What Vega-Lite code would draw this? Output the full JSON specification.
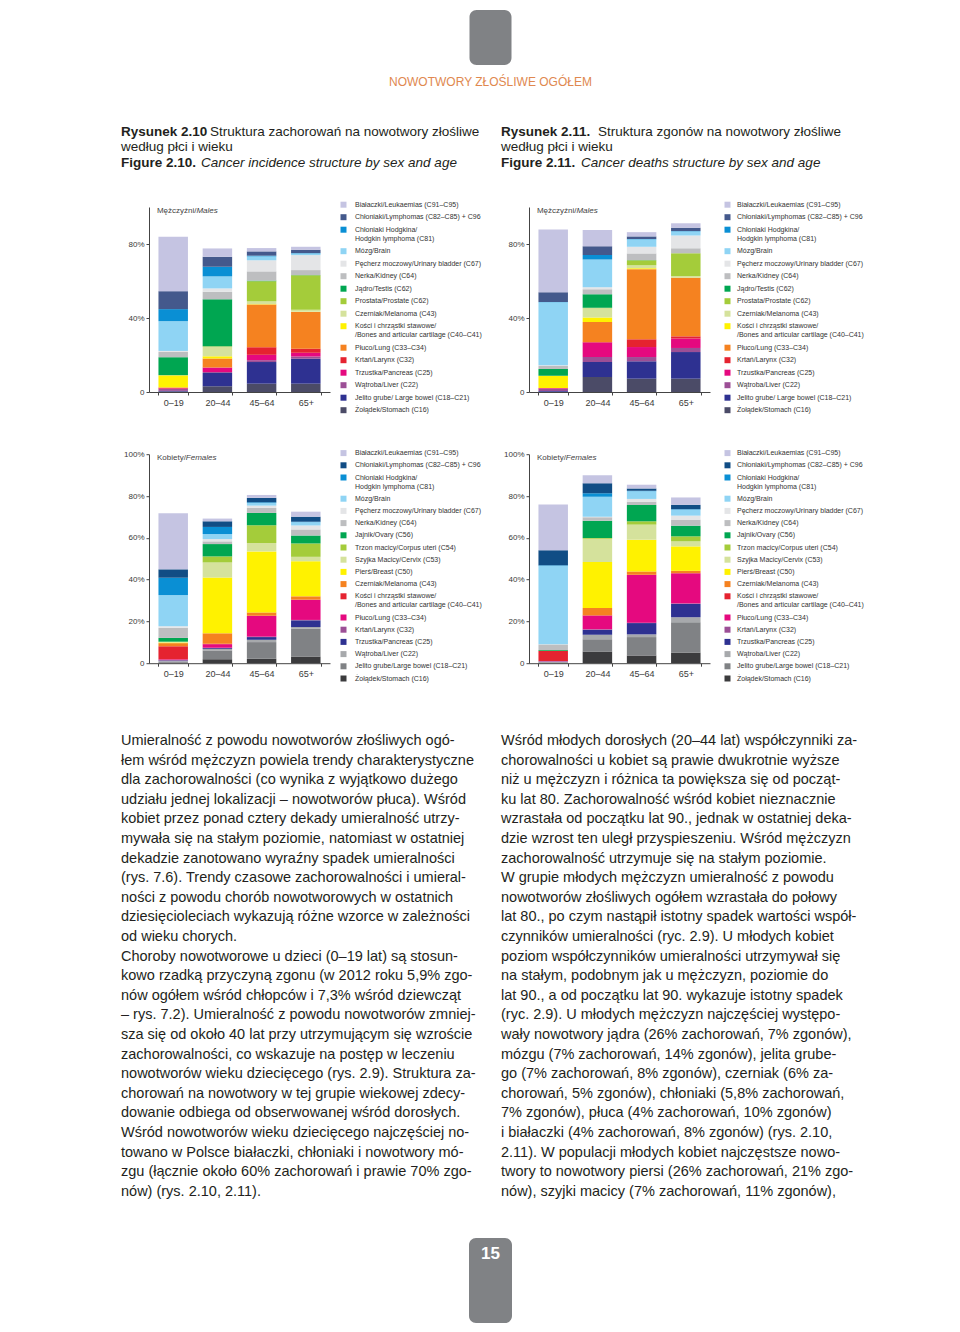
{
"$schema":"https://vega.github.io/schema/vega-lite/v6.json",
"background":"white",
"padding":{"left":121,"top":10,"right":0,"bottom":0},
"autosize":{"type":"pad"},
"config":{"view":{"stroke":null},
 "axis":{"labelFont":"Liberation Sans","labelFontSize":9,"labelColor":"#3a3a3a","domainColor":"#444","tickColor":"#444","labelOverlap":false},
 "text":{"font":"Liberation Sans","color":"#231f20"}},
"datasets":{
"ml":[{"k":16,"c":"Białaczki/Leukaemias (C91–C95)"},{"k":15,"c":"Chłoniaki/Lymphomas (C82–C85) + C96"},{"k":14,"c":"Chłoniaki Hodgkina/|Hodgkin lymphoma (C81)"},{"k":13,"c":"Mózg/Brain"},{"k":12,"c":"Pęcherz moczowy/Urinary bladder (C67)"},{"k":11,"c":"Nerka/Kidney (C64)"},{"k":10,"c":"Jądro/Testis (C62)"},{"k":9,"c":"Prostata/Prostate (C62)"},{"k":8,"c":"Czerniak/Melanoma (C43)"},{"k":7,"c":"Kości i chrząstki stawowe/|/Bones and articular cartilage (C40–C41)"},{"k":6,"c":"Płuco/Lung (C33–C34)"},{"k":5,"c":"Krtań/Larynx (C32)"},{"k":4,"c":"Trzustka/Pancreas (C25)"},{"k":3,"c":"Wątroba/Liver (C22)"},{"k":2,"c":"Jelito grube/ Large bowel (C18–C21)"},{"k":1,"c":"Żołądek/Stomach (C16)"}],
"fl":[{"k":18,"c":"Białaczki/Leukaemias (C91–C95)"},{"k":17,"c":"Chłoniaki/Lymphomas (C82–C85) + C96"},{"k":16,"c":"Chłoniaki Hodgkina/|Hodgkin lymphoma (C81)"},{"k":15,"c":"Mózg/Brain"},{"k":14,"c":"Pęcherz moczowy/Urinary bladder (C67)"},{"k":13,"c":"Nerka/Kidney (C64)"},{"k":12,"c":"Jajnik/Ovary (C56)"},{"k":11,"c":"Trzon macicy/Corpus uteri (C54)"},{"k":10,"c":"Szyjka Macicy/Cervix (C53)"},{"k":9,"c":"Pierś/Breast (C50)"},{"k":8,"c":"Czerniak/Melanoma (C43)"},{"k":7,"c":"Kości i chrząstki stawowe/|/Bones and articular cartilage (C40–C41)"},{"k":6,"c":"Płuco/Lung (C33–C34)"},{"k":5,"c":"Krtań/Larynx (C32)"},{"k":4,"c":"Trzustka/Pancreas (C25)"},{"k":3,"c":"Wątroba/Liver (C22)"},{"k":2,"c":"Jelito grube/Large bowel (C18–C21)"},{"k":1,"c":"Żołądek/Stomach (C16)"}],
"mi":[
{"a":"0–19","k":1,"v":0.3},{"a":"0–19","k":2,"v":0.3},{"a":"0–19","k":3,"v":1.0},{"a":"0–19","k":4,"v":0.3},{"a":"0–19","k":5,"v":0.4},{"a":"0–19","k":6,"v":0.2},{"a":"0–19","k":7,"v":6.5},{"a":"0–19","k":8,"v":0.1},{"a":"0–19","k":10,"v":9.7},{"a":"0–19","k":11,"v":2.9},{"a":"0–19","k":12,"v":0.5},{"a":"0–19","k":13,"v":16.1},{"a":"0–19","k":14,"v":6.5},{"a":"0–19","k":15,"v":9.7},{"a":"0–19","k":16,"v":29.4},
{"a":"20–44","k":1,"v":3.1},{"a":"20–44","k":2,"v":7.2},{"a":"20–44","k":3,"v":0.5},{"a":"20–44","k":4,"v":2.3},{"a":"20–44","k":5,"v":0.2},{"a":"20–44","k":6,"v":4.8},{"a":"20–44","k":7,"v":1.2},{"a":"20–44","k":8,"v":5.1},{"a":"20–44","k":9,"v":0.3},{"a":"20–44","k":10,"v":25.4},{"a":"20–44","k":11,"v":4.1},{"a":"20–44","k":12,"v":1.8},{"a":"20–44","k":13,"v":6.5},{"a":"20–44","k":14,"v":5.2},{"a":"20–44","k":15,"v":5.4},{"a":"20–44","k":16,"v":4.5},
{"a":"45–64","k":1,"v":4.5},{"a":"45–64","k":2,"v":11.7},{"a":"45–64","k":3,"v":1.0},{"a":"45–64","k":4,"v":2.9},{"a":"45–64","k":5,"v":4.1},{"a":"45–64","k":6,"v":23.1},{"a":"45–64","k":7,"v":0.2},{"a":"45–64","k":8,"v":1.5},{"a":"45–64","k":9,"v":10.9},{"a":"45–64","k":10,"v":0.3},{"a":"45–64","k":11,"v":5.0},{"a":"45–64","k":12,"v":6.0},{"a":"45–64","k":13,"v":2.1},{"a":"45–64","k":14,"v":0.4},{"a":"45–64","k":15,"v":2.3},{"a":"45–64","k":16,"v":1.8},
{"a":"65+","k":1,"v":4.5},{"a":"65+","k":2,"v":13.5},{"a":"65+","k":3,"v":1.2},{"a":"65+","k":4,"v":2.0},{"a":"65+","k":5,"v":2.2},{"a":"65+","k":6,"v":19.9},{"a":"65+","k":7,"v":0.1},{"a":"65+","k":8,"v":1.1},{"a":"65+","k":9,"v":18.6},{"a":"65+","k":10,"v":0.1},{"a":"65+","k":11,"v":2.7},{"a":"65+","k":12,"v":8.1},{"a":"65+","k":13,"v":0.9},{"a":"65+","k":14,"v":0.2},{"a":"65+","k":15,"v":1.8},{"a":"65+","k":16,"v":1.6}],
"md":[
{"a":"0–19","k":1,"v":0.2},{"a":"0–19","k":2,"v":0.3},{"a":"0–19","k":3,"v":1.3},{"a":"0–19","k":4,"v":0.2},{"a":"0–19","k":5,"v":0.1},{"a":"0–19","k":6,"v":0.1},{"a":"0–19","k":7,"v":6.5},{"a":"0–19","k":8,"v":0.1},{"a":"0–19","k":10,"v":3.6},{"a":"0–19","k":11,"v":1.8},{"a":"0–19","k":12,"v":0.2},{"a":"0–19","k":13,"v":34.1},{"a":"0–19","k":14,"v":0.2},{"a":"0–19","k":15,"v":5.2},{"a":"0–19","k":16,"v":34.0},
{"a":"20–44","k":1,"v":8.1},{"a":"20–44","k":2,"v":8.1},{"a":"20–44","k":3,"v":2.7},{"a":"20–44","k":4,"v":7.8},{"a":"20–44","k":5,"v":0.3},{"a":"20–44","k":6,"v":10.8},{"a":"20–44","k":7,"v":2.5},{"a":"20–44","k":8,"v":5.0},{"a":"20–44","k":9,"v":0.2},{"a":"20–44","k":10,"v":7.4},{"a":"20–44","k":11,"v":2.7},{"a":"20–44","k":12,"v":1.0},{"a":"20–44","k":13,"v":15.0},{"a":"20–44","k":14,"v":2.5},{"a":"20–44","k":15,"v":4.7},{"a":"20–44","k":16,"v":8.8},
{"a":"45–64","k":1,"v":7.2},{"a":"45–64","k":2,"v":9.4},{"a":"45–64","k":3,"v":2.3},{"a":"45–64","k":4,"v":5.4},{"a":"45–64","k":5,"v":4.2},{"a":"45–64","k":6,"v":37.9},{"a":"45–64","k":7,"v":0.5},{"a":"45–64","k":8,"v":1.6},{"a":"45–64","k":9,"v":2.7},{"a":"45–64","k":10,"v":0.1},{"a":"45–64","k":11,"v":3.6},{"a":"45–64","k":12,"v":3.6},{"a":"45–64","k":13,"v":4.0},{"a":"45–64","k":14,"v":0.2},{"a":"45–64","k":15,"v":1.4},{"a":"45–64","k":16,"v":2.3},
{"a":"65+","k":1,"v":7.2},{"a":"65+","k":2,"v":14.4},{"a":"65+","k":3,"v":2.2},{"a":"65+","k":4,"v":5.1},{"a":"65+","k":5,"v":1.2},{"a":"65+","k":6,"v":31.6},{"a":"65+","k":7,"v":0.1},{"a":"65+","k":8,"v":0.9},{"a":"65+","k":9,"v":12.3},{"a":"65+","k":11,"v":2.7},{"a":"65+","k":12,"v":6.9},{"a":"65+","k":13,"v":2.2},{"a":"65+","k":14,"v":0.2},{"a":"65+","k":15,"v":1.8},{"a":"65+","k":16,"v":2.4}],
"fi":[
{"a":"0–19","k":1,"v":0.2},{"a":"0–19","k":2,"v":0.5},{"a":"0–19","k":3,"v":0.3},{"a":"0–19","k":4,"v":0.3},{"a":"0–19","k":5,"v":0.3},{"a":"0–19","k":6,"v":0.3},{"a":"0–19","k":7,"v":6.2},{"a":"0–19","k":8,"v":1.5},{"a":"0–19","k":9,"v":0.3},{"a":"0–19","k":10,"v":0.3},{"a":"0–19","k":11,"v":0.1},{"a":"0–19","k":12,"v":1.8},{"a":"0–19","k":13,"v":4.8},{"a":"0–19","k":14,"v":0.8},{"a":"0–19","k":15,"v":14.9},{"a":"0–19","k":16,"v":8.3},{"a":"0–19","k":17,"v":4.0},{"a":"0–19","k":18,"v":26.8},
{"a":"20–44","k":1,"v":1.9},{"a":"20–44","k":2,"v":4.2},{"a":"20–44","k":3,"v":0.7},{"a":"20–44","k":4,"v":0.4},{"a":"20–44","k":5,"v":0.2},{"a":"20–44","k":6,"v":1.7},{"a":"20–44","k":7,"v":0.2},{"a":"20–44","k":8,"v":5.0},{"a":"20–44","k":9,"v":26.7},{"a":"20–44","k":10,"v":7.2},{"a":"20–44","k":11,"v":2.9},{"a":"20–44","k":12,"v":5.9},{"a":"20–44","k":13,"v":1.3},{"a":"20–44","k":14,"v":1.1},{"a":"20–44","k":15,"v":2.4},{"a":"20–44","k":16,"v":3.4},{"a":"20–44","k":17,"v":2.7},{"a":"20–44","k":18,"v":1.3},
{"a":"45–64","k":1,"v":2.1},{"a":"45–64","k":2,"v":8.0},{"a":"45–64","k":3,"v":1.1},{"a":"45–64","k":4,"v":1.3},{"a":"45–64","k":5,"v":0.2},{"a":"45–64","k":6,"v":9.9},{"a":"45–64","k":7,"v":0.1},{"a":"45–64","k":8,"v":1.6},{"a":"45–64","k":9,"v":29.2},{"a":"45–64","k":10,"v":4.0},{"a":"45–64","k":11,"v":8.5},{"a":"45–64","k":12,"v":5.9},{"a":"45–64","k":13,"v":2.4},{"a":"45–64","k":14,"v":1.1},{"a":"45–64","k":15,"v":1.3},{"a":"45–64","k":16,"v":0.3},{"a":"45–64","k":17,"v":2.1},{"a":"45–64","k":18,"v":1.4},
{"a":"65+","k":1,"v":3.2},{"a":"65+","k":2,"v":13.3},{"a":"65+","k":3,"v":0.8},{"a":"65+","k":4,"v":3.2},{"a":"65+","k":5,"v":0.2},{"a":"65+","k":6,"v":9.6},{"a":"65+","k":7,"v":0.1},{"a":"65+","k":8,"v":1.6},{"a":"65+","k":9,"v":16.8},{"a":"65+","k":10,"v":2.1},{"a":"65+","k":11,"v":6.4},{"a":"65+","k":12,"v":3.8},{"a":"65+","k":13,"v":2.9},{"a":"65+","k":14,"v":1.9},{"a":"65+","k":15,"v":1.6},{"a":"65+","k":16,"v":0.2},{"a":"65+","k":17,"v":2.4},{"a":"65+","k":18,"v":2.4}],
"fd":[
{"a":"0–19","k":1,"v":0.2},{"a":"0–19","k":2,"v":0.3},{"a":"0–19","k":3,"v":0.2},{"a":"0–19","k":4,"v":0.1},{"a":"0–19","k":5,"v":0.1},{"a":"0–19","k":6,"v":0.1},{"a":"0–19","k":7,"v":4.8},{"a":"0–19","k":8,"v":0.1},{"a":"0–19","k":9,"v":0.1},{"a":"0–19","k":12,"v":0.3},{"a":"0–19","k":13,"v":2.6},{"a":"0–19","k":14,"v":0.2},{"a":"0–19","k":15,"v":37.5},{"a":"0–19","k":16,"v":0.3},{"a":"0–19","k":17,"v":7.2},{"a":"0–19","k":18,"v":21.8},
{"a":"20–44","k":1,"v":5.6},{"a":"20–44","k":2,"v":5.9},{"a":"20–44","k":3,"v":2.1},{"a":"20–44","k":4,"v":2.4},{"a":"20–44","k":5,"v":0.2},{"a":"20–44","k":6,"v":6.5},{"a":"20–44","k":7,"v":0.2},{"a":"20–44","k":8,"v":3.5},{"a":"20–44","k":9,"v":22.0},{"a":"20–44","k":10,"v":11.2},{"a":"20–44","k":11,"v":0.3},{"a":"20–44","k":12,"v":8.3},{"a":"20–44","k":13,"v":1.6},{"a":"20–44","k":14,"v":0.3},{"a":"20–44","k":15,"v":9.6},{"a":"20–44","k":16,"v":1.6},{"a":"20–44","k":17,"v":4.8},{"a":"20–44","k":18,"v":3.8},
{"a":"45–64","k":1,"v":3.7},{"a":"45–64","k":2,"v":8.8},{"a":"45–64","k":3,"v":1.3},{"a":"45–64","k":4,"v":5.4},{"a":"45–64","k":5,"v":0.2},{"a":"45–64","k":6,"v":22.8},{"a":"45–64","k":7,"v":0.1},{"a":"45–64","k":8,"v":1.6},{"a":"45–64","k":9,"v":15.2},{"a":"45–64","k":10,"v":7.2},{"a":"45–64","k":11,"v":1.6},{"a":"45–64","k":12,"v":7.8},{"a":"45–64","k":13,"v":1.6},{"a":"45–64","k":14,"v":1.3},{"a":"45–64","k":15,"v":3.7},{"a":"45–64","k":16,"v":0.2},{"a":"45–64","k":17,"v":1.1},{"a":"45–64","k":18,"v":1.8},
{"a":"65+","k":1,"v":5.1},{"a":"65+","k":2,"v":14.5},{"a":"65+","k":3,"v":2.4},{"a":"65+","k":4,"v":6.4},{"a":"65+","k":5,"v":0.2},{"a":"65+","k":6,"v":14.4},{"a":"65+","k":7,"v":0.1},{"a":"65+","k":8,"v":1.1},{"a":"65+","k":9,"v":11.7},{"a":"65+","k":10,"v":2.4},{"a":"65+","k":11,"v":2.4},{"a":"65+","k":12,"v":5.1},{"a":"65+","k":13,"v":2.9},{"a":"65+","k":14,"v":1.9},{"a":"65+","k":15,"v":2.9},{"a":"65+","k":16,"v":0.2},{"a":"65+","k":17,"v":2.1},{"a":"65+","k":18,"v":3.5}],
"txtL":[
{"l":1,"t":"Umieralność z powodu nowotworów złośliwych ogó-"},
{"l":2,"t":"łem wśród mężczyzn powiela trendy charakterystyczne"},
{"l":3,"t":"dla zachorowalności (co wynika z wyjątkowo dużego"},
{"l":4,"t":"udziału jednej lokalizacji – nowotworów płuca). Wśród"},
{"l":5,"t":"kobiet przez ponad cztery dekady umieralność utrzy-"},
{"l":6,"t":"mywała się na stałym poziomie, natomiast w ostatniej"},
{"l":7,"t":"dekadzie zanotowano wyraźny spadek umieralności"},
{"l":8,"t":"(rys. 7.6). Trendy czasowe zachorowalności i umieral-"},
{"l":9,"t":"ności z powodu chorób nowotworowych w ostatnich"},
{"l":10,"t":"dziesięcioleciach wykazują różne wzorce w zależności"},
{"l":11,"t":"od wieku chorych."},
{"l":12,"t":"Choroby nowotworowe u dzieci (0–19 lat) są stosun-"},
{"l":13,"t":"kowo rzadką przyczyną zgonu (w 2012 roku 5,9% zgo-"},
{"l":14,"t":"nów ogółem wśród chłopców i 7,3% wśród dziewcząt"},
{"l":15,"t":"– rys. 7.2). Umieralność z powodu nowotworów zmniej-"},
{"l":16,"t":"sza się od około 40 lat przy utrzymującym się wzroście"},
{"l":17,"t":"zachorowalności, co wskazuje na postęp w leczeniu"},
{"l":18,"t":"nowotworów wieku dziecięcego (rys. 2.9). Struktura za-"},
{"l":19,"t":"chorowań na nowotwory w tej grupie wiekowej zdecy-"},
{"l":20,"t":"dowanie odbiega od obserwowanej wśród dorosłych."},
{"l":21,"t":"Wśród nowotworów wieku dziecięcego najczęściej no-"},
{"l":22,"t":"towano w Polsce białaczki, chłoniaki i nowotwory mó-"},
{"l":23,"t":"zgu (łącznie około 60% zachorowań i prawie 70% zgo-"},
{"l":24,"t":"nów) (rys. 2.10, 2.11)."}],
"txtR":[
{"l":1,"t":"Wśród młodych dorosłych (20–44 lat) współczynniki za-"},
{"l":2,"t":"chorowalności u kobiet są prawie dwukrotnie wyższe"},
{"l":3,"t":"niż u mężczyzn i różnica ta powiększa się od począt-"},
{"l":4,"t":"ku lat 80. Zachorowalność wśród kobiet nieznacznie"},
{"l":5,"t":"wzrastała od początku lat 90., jednak w ostatniej deka-"},
{"l":6,"t":"dzie wzrost ten uległ przyspieszeniu. Wśród mężczyzn"},
{"l":7,"t":"zachorowalność utrzymuje się na stałym poziomie."},
{"l":8,"t":"W grupie młodych mężczyzn umieralność z powodu"},
{"l":9,"t":"nowotworów złośliwych ogółem wzrastała do połowy"},
{"l":10,"t":"lat 80., po czym nastąpił istotny spadek wartości współ-"},
{"l":11,"t":"czynników umieralności (ryc. 2.9). U młodych kobiet"},
{"l":12,"t":"poziom współczynników umieralności utrzymywał się"},
{"l":13,"t":"na stałym, podobnym jak u mężczyzn, poziomie do"},
{"l":14,"t":"lat 90., a od początku lat 90. wykazuje istotny spadek"},
{"l":15,"t":"(ryc. 2.9). U młodych mężczyzn najczęściej występo-"},
{"l":16,"t":"wały nowotwory jądra (26% zachorowań, 7% zgonów),"},
{"l":17,"t":"mózgu (7% zachorowań, 14% zgonów), jelita grube-"},
{"l":18,"t":"go (7% zachorowań, 8% zgonów), czerniak (6% za-"},
{"l":19,"t":"chorowań, 5% zgonów), chłoniaki (5,8% zachorowań,"},
{"l":20,"t":"7% zgonów), płuca (4% zachorowań, 10% zgonów)"},
{"l":21,"t":"i białaczki (4% zachorowań, 8% zgonów) (rys. 2.10,"},
{"l":22,"t":"2.11). W populacji młodych kobiet najczęstsze nowo-"},
{"l":23,"t":"twory to nowotwory piersi (26% zachorowań, 21% zgo-"},
{"l":24,"t":"nów), szyjki macicy (7% zachorowań, 11% zgonów),"}]
},
"spacing":0,
"resolve":{"scale":{"color":"independent"},"legend":{"color":"independent"}},
"vconcat":[
{"width":739,"height":55,
 "data":{"values":[{"n":"tab"}]},
 "title":{"text":"NOWOTWORY ZŁOŚLIWE OGÓŁEM","orient":"bottom","anchor":"middle","frame":"group","offset":12,"font":"Liberation Sans","fontSize":12,"fontWeight":"normal","color":"#e0884f"},
 "mark":{"type":"bar","width":42,"cornerRadius":7,"color":"#808285"},
 "encoding":{"x":{"field":"n","type":"nominal","axis":null},
  "y":{"datum":1,"type":"quantitative","scale":{"domain":[0,1],"nice":false,"zero":false},"axis":null},
  "y2":{"datum":0}}},
{"hconcat":[
 {"width":359,"height":112.5,
  "layer":[
   {"data":{"values":[{"l":1,"t":"Rysunek 2.10"},{"l":3,"t":"Figure 2.10."}]},
    "mark":{"type":"text","align":"left","baseline":"middle","fontSize":13.5,"fontWeight":"bold"},
    "encoding":{"x":{"datum":0,"type":"quantitative","scale":{"domain":[0,1],"nice":false},"axis":null},"y":{"field":"l","type":"quantitative","scale":{"domain":[1,3],"range":[43.5,74.5],"nice":false,"zero":false},"axis":null},"text":{"field":"t"}}},
   {"data":{"values":[{"l":1,"t":"Struktura zachorowań na nowotwory złośliwe"}]},
    "mark":{"type":"text","align":"left","baseline":"middle","fontSize":13.5,"dx":89},
    "encoding":{"x":{"datum":0,"type":"quantitative","axis":null},"y":{"field":"l","type":"quantitative","axis":null},"text":{"field":"t"}}},
   {"data":{"values":[{"l":2,"t":"według płci i wieku"}]},
    "mark":{"type":"text","align":"left","baseline":"middle","fontSize":13.5},
    "encoding":{"x":{"datum":0,"type":"quantitative","axis":null},"y":{"field":"l","type":"quantitative","axis":null},"text":{"field":"t"}}},
   {"data":{"values":[{"l":3,"t":"Cancer incidence structure by sex and age"}]},
    "mark":{"type":"text","align":"left","baseline":"middle","fontSize":13.5,"fontStyle":"italic","dx":80},
    "encoding":{"x":{"datum":0,"type":"quantitative","axis":null},"y":{"field":"l","type":"quantitative","axis":null},"text":{"field":"t"}}}
  ]},
 {"width":359,"height":112.5,
  "layer":[
   {"data":{"values":[{"l":1,"t":"Rysunek 2.11."},{"l":3,"t":"Figure 2.11."}]},
    "mark":{"type":"text","align":"left","baseline":"middle","fontSize":13.5,"fontWeight":"bold"},
    "encoding":{"x":{"datum":0,"type":"quantitative","scale":{"domain":[0,1],"nice":false},"axis":null},"y":{"field":"l","type":"quantitative","scale":{"domain":[1,3],"range":[43.5,74.5],"nice":false,"zero":false},"axis":null},"text":{"field":"t"}}},
   {"data":{"values":[{"l":1,"t":"Struktura zgonów na nowotwory złośliwe"}]},
    "mark":{"type":"text","align":"left","baseline":"middle","fontSize":13.5,"dx":97},
    "encoding":{"x":{"datum":0,"type":"quantitative","axis":null},"y":{"field":"l","type":"quantitative","axis":null},"text":{"field":"t"}}},
   {"data":{"values":[{"l":2,"t":"według płci i wieku"}]},
    "mark":{"type":"text","align":"left","baseline":"middle","fontSize":13.5},
    "encoding":{"x":{"datum":0,"type":"quantitative","axis":null},"y":{"field":"l","type":"quantitative","axis":null},"text":{"field":"t"}}},
   {"data":{"values":[{"l":3,"t":"Cancer deaths structure by sex and age"}]},
    "mark":{"type":"text","align":"left","baseline":"middle","fontSize":13.5,"fontStyle":"italic","dx":80},
    "encoding":{"x":{"datum":0,"type":"quantitative","axis":null},"y":{"field":"l","type":"quantitative","axis":null},"text":{"field":"t"}}}
  ]}
 ],"spacing":21,"bounds":"flush"},
{"vconcat":[
 {"hconcat":[
  {"width":14,"height":10,"data":{"values":[{}]},"mark":{"type":"point","opacity":0}},
  {"hconcat":[
   {"width":181,"height":185,"data":{"name":"mi"},
    "layer":[
     {"transform":[{"lookup":"k","from":{"data":{"name":"ml"},"key":"k","fields":["c"]}}],
      "mark":{"type":"bar"},
      "encoding":{
       "x":{"field":"a","type":"ordinal","scale":{"domain":["0–19","20–44","45–64","65+"],"paddingInner":0.333,"paddingOuter":0.214},"axis":{"title":null,"labelAngle":0,"tickBand":"extent","tickSize":3,"labelPadding":3}},
       "y":{"field":"v","type":"quantitative","stack":"zero","scale":{"domain":[0,100]},"axis":{"title":null,"values":[0,20,40,60,80,100],"labelExpr":"datum.value == 0 ? '0' : datum.value + '%'","grid":false,"tickSize":3,"labelPadding":2,"labelFontSize":8,"labelOverlap":false}},
       "color":{"field":"c","type":"nominal","scale":{"domain":["Białaczki/Leukaemias (C91–C95)","Chłoniaki/Lymphomas (C82–C85) + C96","Chłoniaki Hodgkina/|Hodgkin lymphoma (C81)","Mózg/Brain","Pęcherz moczowy/Urinary bladder (C67)","Nerka/Kidney (C64)","Jądro/Testis (C62)","Prostata/Prostate (C62)","Czerniak/Melanoma (C43)","Kości i chrząstki stawowe/|/Bones and articular cartilage (C40–C41)","Płuco/Lung (C33–C34)","Krtań/Larynx (C32)","Trzustka/Pancreas (C25)","Wątroba/Liver (C22)","Jelito grube/ Large bowel (C18–C21)","Żołądek/Stomach (C16)"],"range":["#c5c4e2","#44598c","#0a8fd4","#8fd4f4","#e4e5e7","#bdbec0","#00a651","#a4cc3a","#d5e29c","#fff200","#f58220","#e52330","#e5097f","#9c4f96","#2e3191","#4b4b67"]},
        "legend":{"title":null,"orient":"none","legendX":191,"legendY":-5.8,"padding":0,"symbolType":"square","symbolSize":36,"symbolStrokeWidth":0,"labelFont":"Liberation Sans","labelFontSize":7,"labelColor":"#333","labelOffset":8,"rowPadding":4.5,"labelLimit":300,"labelExpr":"split(datum.label, '|')"}},
       "order":{"field":"k","type":"quantitative","sort":"ascending"}}},
     {"data":{"values":[{"t":"Mężczyźni/"}]},"mark":{"type":"text","align":"left","baseline":"middle","fontSize":8,"color":"#444","dx":-1.5},
      "encoding":{"x":{"datum":"0–19","type":"ordinal","bandPosition":0},"y":{"datum":98,"type":"quantitative"},"text":{"field":"t"}}},
     {"data":{"values":[{"t":"Males"}]},"mark":{"type":"text","align":"left","baseline":"middle","fontSize":8,"fontStyle":"italic","color":"#444","dx":38},
      "encoding":{"x":{"datum":"0–19","type":"ordinal","bandPosition":0},"y":{"datum":98,"type":"quantitative"},"text":{"field":"t"}}}
    ]},
   {"width":181,"height":185,"data":{"name":"md"},
    "layer":[
     {"transform":[{"lookup":"k","from":{"data":{"name":"ml"},"key":"k","fields":["c"]}}],
      "mark":{"type":"bar"},
      "encoding":{
       "x":{"field":"a","type":"ordinal","scale":{"domain":["0–19","20–44","45–64","65+"],"paddingInner":0.333,"paddingOuter":0.214},"axis":{"title":null,"labelAngle":0,"tickBand":"extent","tickSize":3,"labelPadding":3}},
       "y":{"field":"v","type":"quantitative","stack":"zero","scale":{"domain":[0,100]},"axis":{"title":null,"values":[0,20,40,60,80,100],"labelExpr":"datum.value == 0 ? '0' : datum.value + '%'","grid":false,"tickSize":3,"labelPadding":2,"labelFontSize":8,"labelOverlap":false}},
       "color":{"field":"c","type":"nominal","scale":{"domain":["Białaczki/Leukaemias (C91–C95)","Chłoniaki/Lymphomas (C82–C85) + C96","Chłoniaki Hodgkina/|Hodgkin lymphoma (C81)","Mózg/Brain","Pęcherz moczowy/Urinary bladder (C67)","Nerka/Kidney (C64)","Jądro/Testis (C62)","Prostata/Prostate (C62)","Czerniak/Melanoma (C43)","Kości i chrząstki stawowe/|/Bones and articular cartilage (C40–C41)","Płuco/Lung (C33–C34)","Krtań/Larynx (C32)","Trzustka/Pancreas (C25)","Wątroba/Liver (C22)","Jelito grube/ Large bowel (C18–C21)","Żołądek/Stomach (C16)"],"range":["#c5c4e2","#44598c","#0a8fd4","#8fd4f4","#e4e5e7","#bdbec0","#00a651","#a4cc3a","#d5e29c","#fff200","#f58220","#e52330","#e5097f","#9c4f96","#2e3191","#4b4b67"]},
        "legend":{"title":null,"orient":"none","legendX":195,"legendY":-5.8,"padding":0,"symbolType":"square","symbolSize":36,"symbolStrokeWidth":0,"labelFont":"Liberation Sans","labelFontSize":7,"labelColor":"#333","labelOffset":6,"rowPadding":4.5,"labelLimit":300,"labelExpr":"split(datum.label, '|')"}},
       "order":{"field":"k","type":"quantitative","sort":"ascending"}}},
     {"data":{"values":[{"t":"Mężczyźni/"}]},"mark":{"type":"text","align":"left","baseline":"middle","fontSize":8,"color":"#444","dx":-1.5},
      "encoding":{"x":{"datum":"0–19","type":"ordinal","bandPosition":0},"y":{"datum":98,"type":"quantitative"},"text":{"field":"t"}}},
     {"data":{"values":[{"t":"Males"}]},"mark":{"type":"text","align":"left","baseline":"middle","fontSize":8,"fontStyle":"italic","color":"#444","dx":38},
      "encoding":{"x":{"datum":"0–19","type":"ordinal","bandPosition":0},"y":{"datum":98,"type":"quantitative"},"text":{"field":"t"}}}
    ]}
  ],"spacing":199,"bounds":"flush","resolve":{"scale":{"color":"independent"},"legend":{"color":"independent"}}}
 ],"spacing":14,"bounds":"flush","resolve":{"scale":{"color":"independent"},"legend":{"color":"independent"}}},
 {"hconcat":[
  {"width":14,"height":10,"data":{"values":[{}]},"mark":{"type":"point","opacity":0}},
  {"hconcat":[
   {"width":181,"height":209,"data":{"name":"fi"},
    "layer":[
     {"transform":[{"lookup":"k","from":{"data":{"name":"fl"},"key":"k","fields":["c"]}}],
      "mark":{"type":"bar"},
      "encoding":{
       "x":{"field":"a","type":"ordinal","scale":{"domain":["0–19","20–44","45–64","65+"],"paddingInner":0.333,"paddingOuter":0.214},"axis":{"title":null,"labelAngle":0,"tickBand":"extent","tickSize":3,"labelPadding":3}},
       "y":{"field":"v","type":"quantitative","stack":"zero","scale":{"domain":[0,100]},"axis":{"title":null,"values":[0,20,40,60,80,100],"labelExpr":"datum.value == 0 ? '0' : datum.value + '%'","grid":false,"tickSize":3,"labelPadding":2,"labelFontSize":8,"labelOverlap":false}},
       "color":{"field":"c","type":"nominal","scale":{"domain":["Białaczki/Leukaemias (C91–C95)","Chłoniaki/Lymphomas (C82–C85) + C96","Chłoniaki Hodgkina/|Hodgkin lymphoma (C81)","Mózg/Brain","Pęcherz moczowy/Urinary bladder (C67)","Nerka/Kidney (C64)","Jajnik/Ovary (C56)","Trzon macicy/Corpus uteri (C54)","Szyjka Macicy/Cervix (C53)","Pierś/Breast (C50)","Czerniak/Melanoma (C43)","Kości i chrząstki stawowe/|/Bones and articular cartilage (C40–C41)","Płuco/Lung (C33–C34)","Krtań/Larynx (C32)","Trzustka/Pancreas (C25)","Wątroba/Liver (C22)","Jelito grube/Large bowel (C18–C21)","Żołądek/Stomach (C16)"],"range":["#c5c4e2","#114d85","#0a8fd4","#8fd4f4","#e4e5e7","#bdbec0","#00a651","#a4cc3a","#d5e29c","#fff200","#f58220","#e52330","#e5097f","#9c4f96","#2e3191","#a7a9ac","#808285","#3b3b3d"]},
        "legend":{"title":null,"orient":"none","legendX":191,"legendY":-4.6,"padding":0,"symbolType":"square","symbolSize":36,"symbolStrokeWidth":0,"labelFont":"Liberation Sans","labelFontSize":7,"labelColor":"#333","labelOffset":8,"rowPadding":4.2,"labelLimit":300,"labelExpr":"split(datum.label, '|')"}},
       "order":{"field":"k","type":"quantitative","sort":"ascending"}}},
     {"data":{"values":[{"t":"Kobiety/"}]},"mark":{"type":"text","align":"left","baseline":"middle","fontSize":8,"color":"#444","dx":-1.5},
      "encoding":{"x":{"datum":"0–19","type":"ordinal","bandPosition":0},"y":{"datum":98,"type":"quantitative"},"text":{"field":"t"}}},
     {"data":{"values":[{"t":"Females"}]},"mark":{"type":"text","align":"left","baseline":"middle","fontSize":8,"fontStyle":"italic","color":"#444","dx":27.4},
      "encoding":{"x":{"datum":"0–19","type":"ordinal","bandPosition":0},"y":{"datum":98,"type":"quantitative"},"text":{"field":"t"}}}
    ]},
   {"width":181,"height":209,"data":{"name":"fd"},
    "layer":[
     {"transform":[{"lookup":"k","from":{"data":{"name":"fl"},"key":"k","fields":["c"]}}],
      "mark":{"type":"bar"},
      "encoding":{
       "x":{"field":"a","type":"ordinal","scale":{"domain":["0–19","20–44","45–64","65+"],"paddingInner":0.333,"paddingOuter":0.214},"axis":{"title":null,"labelAngle":0,"tickBand":"extent","tickSize":3,"labelPadding":3}},
       "y":{"field":"v","type":"quantitative","stack":"zero","scale":{"domain":[0,100]},"axis":{"title":null,"values":[0,20,40,60,80,100],"labelExpr":"datum.value == 0 ? '0' : datum.value + '%'","grid":false,"tickSize":3,"labelPadding":2,"labelFontSize":8,"labelOverlap":false}},
       "color":{"field":"c","type":"nominal","scale":{"domain":["Białaczki/Leukaemias (C91–C95)","Chłoniaki/Lymphomas (C82–C85) + C96","Chłoniaki Hodgkina/|Hodgkin lymphoma (C81)","Mózg/Brain","Pęcherz moczowy/Urinary bladder (C67)","Nerka/Kidney (C64)","Jajnik/Ovary (C56)","Trzon macicy/Corpus uteri (C54)","Szyjka Macicy/Cervix (C53)","Pierś/Breast (C50)","Czerniak/Melanoma (C43)","Kości i chrząstki stawowe/|/Bones and articular cartilage (C40–C41)","Płuco/Lung (C33–C34)","Krtań/Larynx (C32)","Trzustka/Pancreas (C25)","Wątroba/Liver (C22)","Jelito grube/Large bowel (C18–C21)","Żołądek/Stomach (C16)"],"range":["#c5c4e2","#114d85","#0a8fd4","#8fd4f4","#e4e5e7","#bdbec0","#00a651","#a4cc3a","#d5e29c","#fff200","#f58220","#e52330","#e5097f","#9c4f96","#2e3191","#a7a9ac","#808285","#3b3b3d"]},
        "legend":{"title":null,"orient":"none","legendX":195,"legendY":-4.6,"padding":0,"symbolType":"square","symbolSize":36,"symbolStrokeWidth":0,"labelFont":"Liberation Sans","labelFontSize":7,"labelColor":"#333","labelOffset":6,"rowPadding":4.2,"labelLimit":300,"labelExpr":"split(datum.label, '|')"}},
       "order":{"field":"k","type":"quantitative","sort":"ascending"}}},
     {"data":{"values":[{"t":"Kobiety/"}]},"mark":{"type":"text","align":"left","baseline":"middle","fontSize":8,"color":"#444","dx":-1.5},
      "encoding":{"x":{"datum":"0–19","type":"ordinal","bandPosition":0},"y":{"datum":98,"type":"quantitative"},"text":{"field":"t"}}},
     {"data":{"values":[{"t":"Females"}]},"mark":{"type":"text","align":"left","baseline":"middle","fontSize":8,"fontStyle":"italic","color":"#444","dx":27.4},
      "encoding":{"x":{"datum":"0–19","type":"ordinal","bandPosition":0},"y":{"datum":98,"type":"quantitative"},"text":{"field":"t"}}}
    ]}
  ],"spacing":199,"bounds":"flush","resolve":{"scale":{"color":"independent"},"legend":{"color":"independent"}}}
 ],"spacing":14,"bounds":"flush","resolve":{"scale":{"color":"independent"},"legend":{"color":"independent"}}}
],"spacing":35.2,"resolve":{"scale":{"color":"independent"},"legend":{"color":"independent"}}},
{"hconcat":[
 {"width":359,"height":555.4,"data":{"name":"txtL"},
  "mark":{"type":"text","align":"left","baseline":"middle","font":"Liberation Sans","fontSize":14.5,"color":"#231f20"},
  "encoding":{"x":{"datum":0,"type":"quantitative","scale":{"domain":[0,1],"nice":false},"axis":null},"y":{"field":"l","type":"quantitative","scale":{"domain":[1,24],"range":[59,509.8],"nice":false,"zero":false},"axis":null},"text":{"field":"t"}}},
 {"width":359,"height":555.4,"data":{"name":"txtR"},
  "mark":{"type":"text","align":"left","baseline":"middle","font":"Liberation Sans","fontSize":14.5,"color":"#231f20"},
  "encoding":{"x":{"datum":0,"type":"quantitative","scale":{"domain":[0,1],"nice":false},"axis":null},"y":{"field":"l","type":"quantitative","scale":{"domain":[1,24],"range":[59,509.8],"nice":false,"zero":false},"axis":null},"text":{"field":"t"}}}
],"spacing":21,"bounds":"flush"},
{"width":739,"height":85,
 "data":{"values":[{"n":"tab","p":"15"}]},
 "layer":[
  {"mark":{"type":"bar","width":43,"cornerRadius":7,"color":"#808285"},
   "encoding":{"x":{"field":"n","type":"nominal","axis":null},
    "y":{"datum":1,"type":"quantitative","scale":{"domain":[0,1],"nice":false,"zero":false},"axis":null},
    "y2":{"datum":0}}},
  {"mark":{"type":"text","align":"center","baseline":"middle","font":"Liberation Sans","fontSize":17,"fontWeight":"bold","color":"white"},
   "encoding":{"x":{"field":"n","type":"nominal","axis":null},"y":{"datum":0.81,"type":"quantitative","axis":null},"text":{"field":"p"}}}
 ]}
]
}
